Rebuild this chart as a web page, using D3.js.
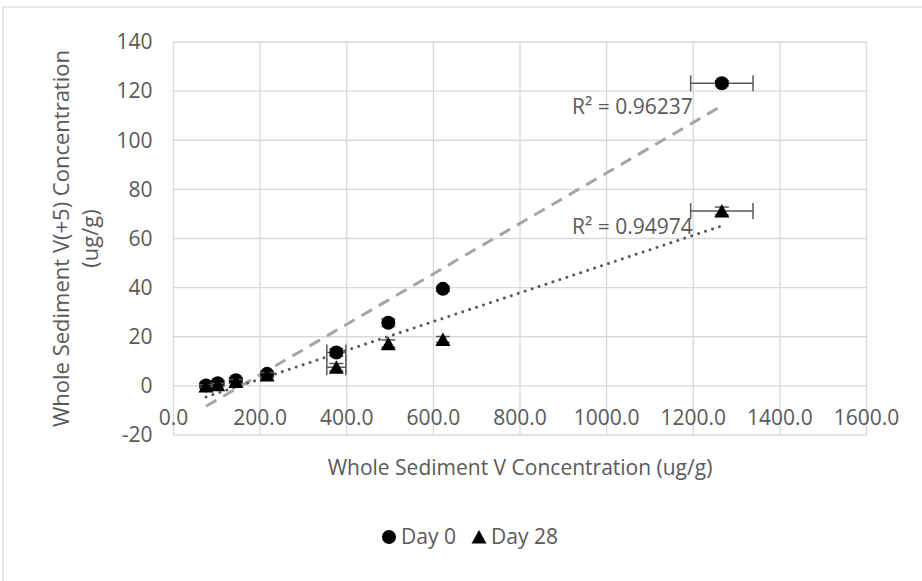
<!DOCTYPE html>
<html>
  <head>
    <meta charset="utf-8">
    <script src="https://d3js.org/d3.v7.min.js"></script>
    <style>
      body { margin: 0; background: #fff; }
      text { font-family: "Open Sans", sans-serif; fill: #595959; font-size: 21px; }
    </style>
  </head>
<body>
<script>
  // values
  var xVals   = [75, 102, 144, 216, 376, 496, 622, 1266];
  var day0    = [0.2, 1.1, 2.3, 4.9, 13.6, 25.7, 39.5, 123.2];
  var day28   = [0, 0.5, 1.8, 4.4, 7.6, 17.2, 18.9, 71.2];
  var xErr    = [0, 0, 0, 0, 22, 0, 0, 72];
  var yErr0   = [1, 1, 1, 1, 1.5, 1.5, 1, 1];
  var yErr28  = [0.5, 0.5, 0.8, 1, 1.5, 1.5, 1.2, 1.6];
  var xTicks  = [0, 200, 400, 600, 800, 1000, 1200, 1400, 1600];
  var yTicks  = [-20, 0, 20, 40, 60, 80, 100, 120, 140];
  var seriesNames = ["Day 0", "Day 28"];
  var r2Labels = ["R\u00b2 = 0.96237", "R\u00b2 = 0.94974"];

  var width = 922, height = 581;
  var margin = {left: 173.5, top: 42, right: 922 - 866.5, bottom: 581 - 435};

  var svg = d3.select("body").append("svg")
      .attr("width", width)
      .attr("height", height);

  // chart border
  svg.append("rect")
      .attr("x", 3).attr("y", 7)
      .attr("width", 940).attr("height", 600)
      .attr("fill", "none").attr("stroke", "#d9d9d9").attr("stroke-width", 1.2);

  var x = d3.scaleLinear().domain([0, 1600]).range([margin.left, width - margin.right]);
  var y = d3.scaleLinear().domain([-20, 140]).range([height - margin.bottom, margin.top]);

  // grid
  var grid = svg.append("g");
  grid.selectAll("line.v").data(xTicks).enter().append("line")
      .attr("x1", d => x(d)).attr("x2", d => x(d))
      .attr("y1", y(140)).attr("y2", y(-20))
      .attr("stroke", "#d9d9d9").attr("stroke-width", 1.3);
  grid.selectAll("line.h").data(yTicks).enter().append("line")
      .attr("x1", x(0)).attr("x2", x(1600))
      .attr("y1", d => y(d)).attr("y2", d => y(d))
      .attr("stroke", "#d9d9d9").attr("stroke-width", 1.3);

  // tick labels
  svg.selectAll("text.yt").data(yTicks).enter().append("text")
      .attr("x", x(0) - 21).attr("y", d => y(d))
      .attr("dy", "0.35em").attr("text-anchor", "end")
      .text(d => d);
  svg.selectAll("text.xt").data(xTicks).enter().append("text")
      .attr("x", d => x(d)).attr("y", y(0) + 32)
      .attr("dy", "0.35em").attr("text-anchor", "middle")
      .text(d => d3.format(".1f")(d));

  // axis titles
  svg.append("text")
      .attr("x", (x(0) + x(1600)) / 2).attr("y", 475)
      .attr("text-anchor", "middle")
      .text("Whole Sediment V Concentration (ug/g)");
  var yt = svg.append("text")
      .attr("transform", "translate(0," + ((y(140) + y(-20)) / 2) + ") rotate(-90)")
      .attr("text-anchor", "middle")
      .style("font-size", "22px");
  yt.append("tspan").attr("x", 0).attr("y", 69).text("Whole Sediment V(+5) Concentration");
  yt.append("tspan").attr("x", 0).attr("y", 98).text("(ug/g)");

  // trendlines (least squares)
  function fit(xs, ys) {
    var mx = d3.mean(xs), my = d3.mean(ys), sxy = 0, sxx = 0;
    xs.forEach(function(v, i) { sxy += (v - mx) * (ys[i] - my); sxx += (v - mx) * (v - mx); });
    var b = sxy / sxx;
    return {b: b, a: my - b * mx};
  }
  var xMin = d3.min(xVals), xMax = d3.max(xVals);
  var fits = [fit(xVals, day0), fit(xVals, day28)];
  var trendStyle = [
    {stroke: "#a5a5a5", w: 3, dash: "12,8", cap: "butt"},
    {stroke: "#595959", w: 3, dash: "0.01,7.3", cap: "round"}
  ];
  fits.forEach(function(f, i) {
    svg.append("line")
        .attr("x1", x(xMin)).attr("y1", y(f.a + f.b * xMin))
        .attr("x2", x(xMax)).attr("y2", y(f.a + f.b * xMax))
        .attr("stroke", trendStyle[i].stroke)
        .attr("stroke-width", trendStyle[i].w)
        .attr("stroke-dasharray", trendStyle[i].dash)
        .attr("stroke-linecap", trendStyle[i].cap);
    svg.append("text")
        .attr("x", x(xMax) - 29).attr("y", y(f.a + f.b * xMax) + 8)
        .attr("text-anchor", "end")
        .text(r2Labels[i]);
  });

  // error bars + markers
  var series = [
    {ys: day0, yErr: yErr0, shape: "circle"},
    {ys: day28, yErr: yErr28, shape: "triangle"}
  ];
  var triPath = "M0,-7L7.5,6.5L-7.5,6.5Z";

  series.forEach(function(s) {
    var g = svg.append("g");
    xVals.forEach(function(xv, i) {
      var cx = x(xv), cy = y(s.ys[i]);
      var eb = g.append("g").attr("stroke", "#595959").attr("stroke-width", 1.5);
      if (xErr[i] > 0) {
        var x1 = x(xv - xErr[i]), x2 = x(xv + xErr[i]);
        eb.append("line").attr("x1", x1).attr("x2", x2).attr("y1", cy).attr("y2", cy);
        eb.append("line").attr("x1", x1).attr("x2", x1).attr("y1", cy - 8).attr("y2", cy + 8);
        eb.append("line").attr("x1", x2).attr("x2", x2).attr("y1", cy - 8).attr("y2", cy + 8);
      }
      var y1 = y(s.ys[i] - s.yErr[i]), y2 = y(s.ys[i] + s.yErr[i]);
      eb.append("line").attr("x1", cx).attr("x2", cx).attr("y1", y1).attr("y2", y2);
      eb.append("line").attr("x1", cx - 7).attr("x2", cx + 7).attr("y1", y1).attr("y2", y1);
      eb.append("line").attr("x1", cx - 7).attr("x2", cx + 7).attr("y1", y2).attr("y2", y2);
    });
    var pts = g.selectAll(".pt").data(xVals).enter();
    if (s.shape === "circle") {
      pts.append("circle")
          .attr("cx", d => x(d)).attr("cy", (d, i) => y(s.ys[i]))
          .attr("r", 7).attr("fill", "#000");
    } else {
      pts.append("path")
          .attr("d", triPath)
          .attr("transform", (d, i) => "translate(" + x(d) + "," + y(s.ys[i]) + ")")
          .attr("fill", "#000");
    }
  });

  // legend
  var leg = svg.append("g").attr("transform", "translate(381,537)");
  leg.append("circle").attr("cx", 8).attr("cy", 0).attr("r", 7).attr("fill", "#000");
  leg.append("text").attr("x", 20).attr("y", 0).attr("dy", "0.35em").text(seriesNames[0]);
  leg.append("path").attr("d", triPath).attr("transform", "translate(98,0)").attr("fill", "#000");
  leg.append("text").attr("x", 110).attr("y", 0).attr("dy", "0.35em").text(seriesNames[1]);
</script>
</body>
</html>
